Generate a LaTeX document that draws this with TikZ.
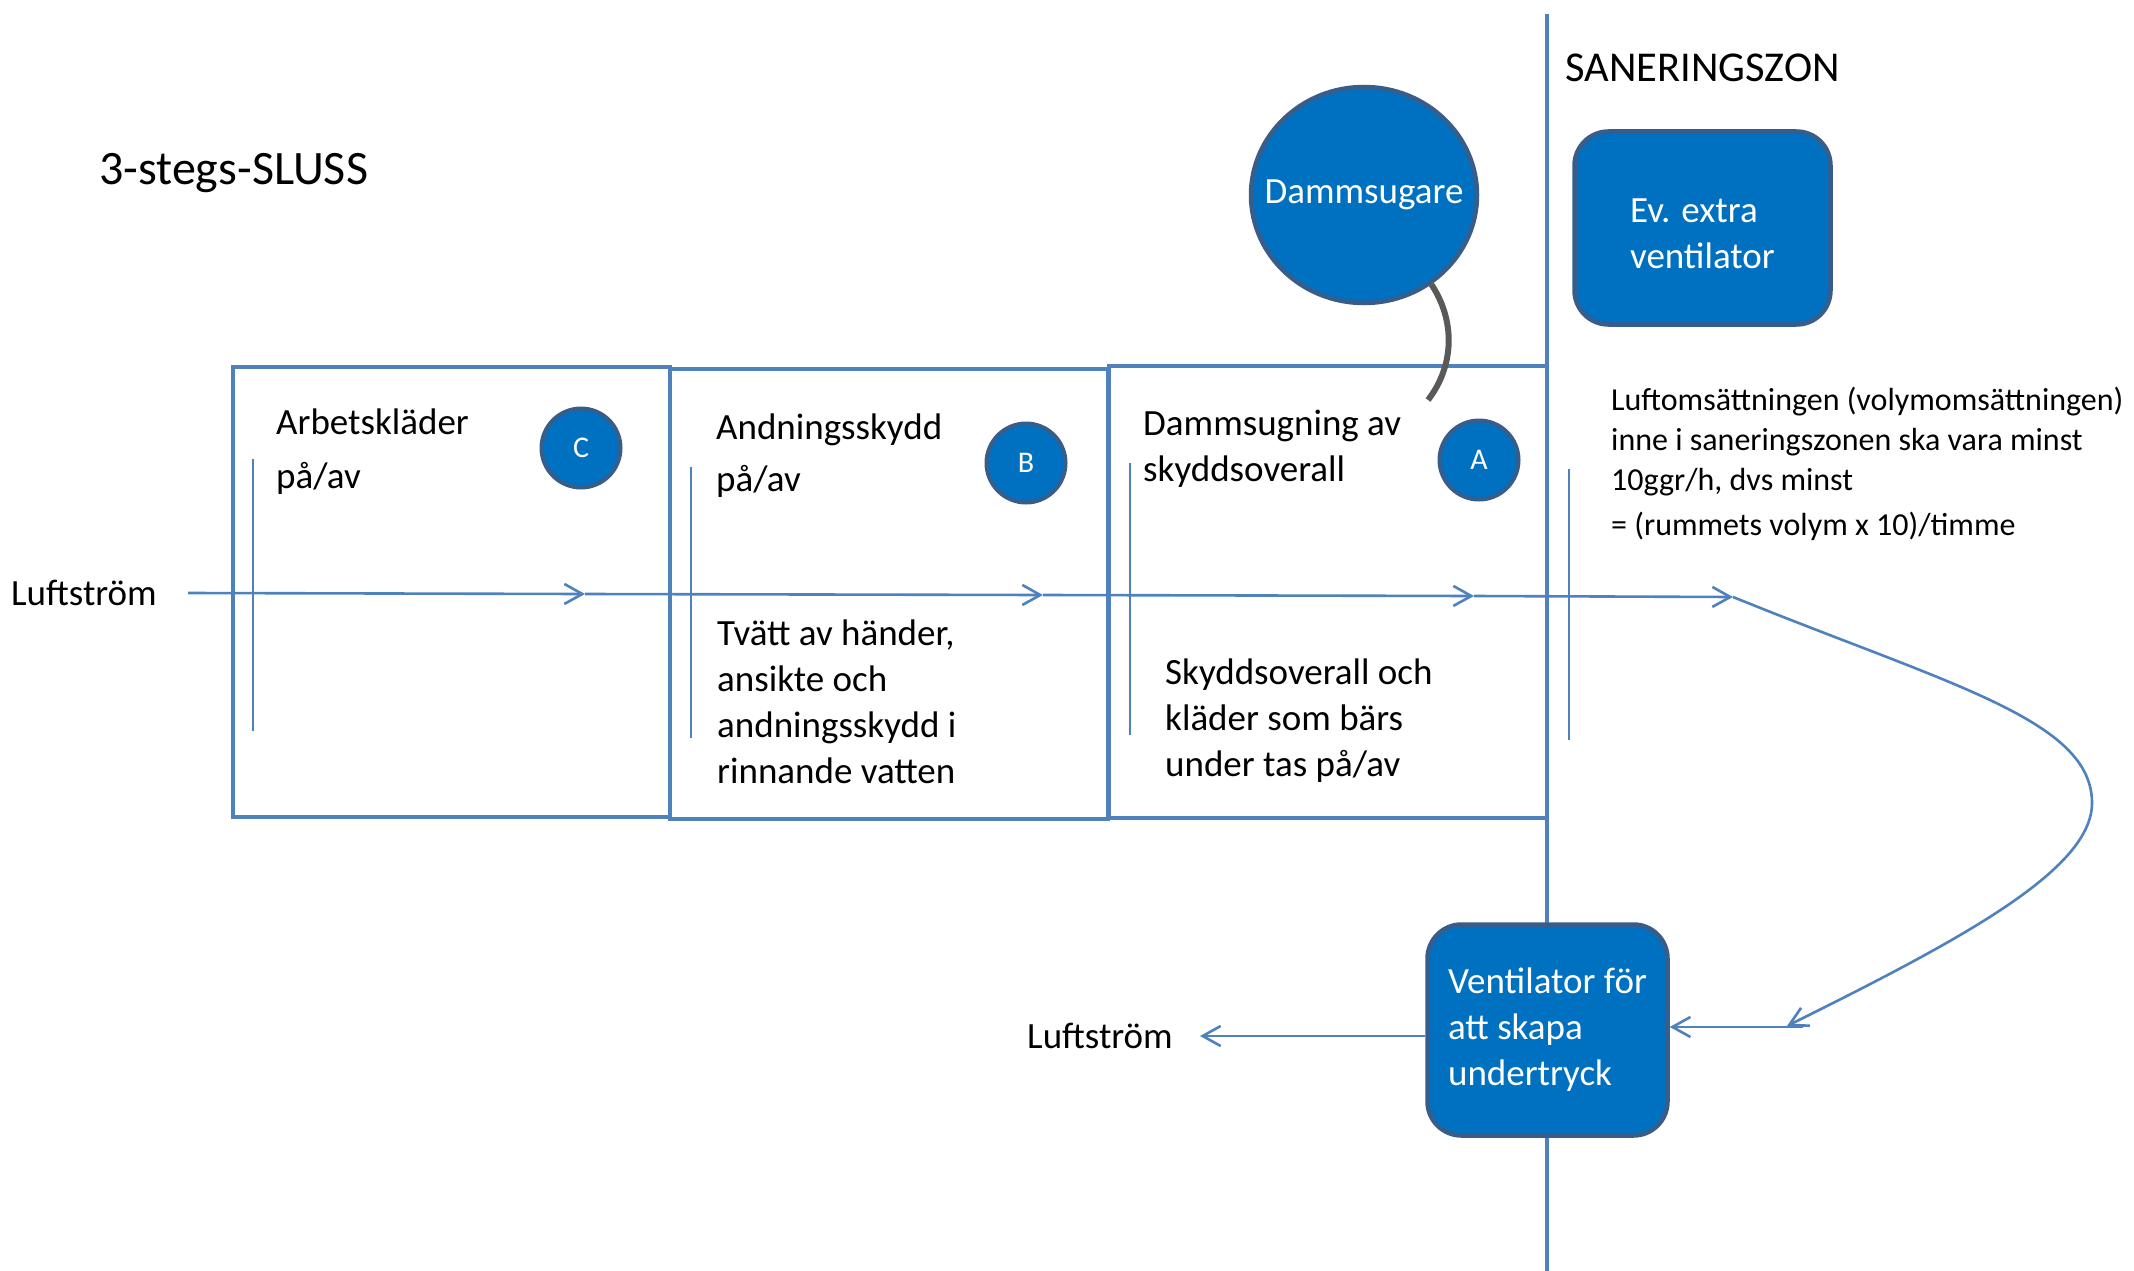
\documentclass[tikz,border=0pt]{standalone}
\usepackage{fontspec}
\setmainfont{Carlito}
\usetikzlibrary{arrows.meta,shapes.geometric}
\definecolor{lineblue}{HTML}{4F81BD}
\definecolor{fillblue}{HTML}{0070C0}
\definecolor{edgeblue}{HTML}{385D8A}
\definecolor{cablegray}{HTML}{595959}
\newcommand\txtlines[1]{\begin{tabular}[t]{@{}l@{}}#1\end{tabular}}
\begin{document}
\begin{tikzpicture}[x=1pt,y=-1pt,
  room/.style={draw=lineblue,line width=4.5pt,rectangle,inner sep=0pt},
  zoneline/.style={draw=lineblue,line width=4.5pt},
  doorline/.style={draw=lineblue,line width=2.6pt},
  flow/.style={draw=lineblue,line width=2.6pt,-{Straight Barb[length=18pt,width=20pt]}},
  txt/.style={anchor=base west,inner sep=0pt,font=\fontsize{37}{46}\selectfont},
  smalltxt/.style={anchor=base west,inner sep=0pt,font=\fontsize{32}{40}\selectfont},
  badge/.style={circle,fill=fillblue,draw=edgeblue,line width=4pt,minimum size=79pt,inner sep=0pt,text=white,font=\fontsize{30}{32}\selectfont},
  unit/.style={rectangle,rounded corners=34pt,fill=fillblue,draw=edgeblue,line width=4.5pt,inner sep=0pt,text=white,font=\fontsize{37}{46}\selectfont},
]
\useasboundingbox (0,0) rectangle (2134,1271);

% zone boundary
\draw[zoneline] (1547,14) -- (1547,1271);

% rooms
\node[room,minimum width=437pt,minimum height=450pt] (r1) at (451.5,592) {};
\node[room,minimum width=438pt,minimum height=450pt] (r2) at (889,594) {};
\node[room,minimum width=438pt,minimum height=452pt] (r3) at (1328,592) {};

% door markers
\draw[doorline] (253,459) -- (253,731);
\draw[doorline] (691,467) -- (691,738);
\draw[doorline] (1130,463) -- (1130,735);
\draw[doorline] (1569,469) -- (1569,740);

% air flow
\coordinate (f0) at (188,593);
\coordinate (f1) at (585,594);
\coordinate (f2) at (1043,595);
\coordinate (f3) at (1474,596);
\coordinate (f4) at (1733,597);
\coordinate (f5) at (1787,1026);
\coordinate (f6) at (1803,1027);
\coordinate (f7) at (1200,1036);
\draw[flow] (f0) -- (f1);
\draw[flow] (f1) -- (f2);
\draw[flow] (f2) -- (f3);
\draw[flow] (f3) -- (f4);
\draw[flow] (f4) .. controls (1950,685) and (2092,720) .. (2092,803)
               .. controls (2092,870) and (1960,940) .. (f5);

% texts
\node[anchor=base west,inner sep=0pt,font=\fontsize{48}{58}\selectfont] (title) at (99,184) {3-stegs-SLUSS};
\node[anchor=base west,inner sep=0pt,font=\fontsize{42.5}{50}\selectfont] (zone) at (1565,82) {SANERINGSZON};
\node[txt] (lft1) at (11,605) {Luftström};
\node[txt] (lft2) at (1027,1048) {Luftström};
\node[txt] (t1) at (276,434) {\txtlines{Arbetskläder\\[8pt] på/av}};
\node[txt] (t2) at (716,439) {\txtlines{Andningsskydd\\[6pt] på/av}};
\node[txt] (t3) at (1143,435) {\txtlines{Dammsugning av\\ skyddsoverall}};
\node[txt] (t4) at (717,645) {\txtlines{Tvätt av händer,\\ ansikte och\\ andningsskydd i\\ rinnande vatten}};
\node[txt] (t5) at (1165,684) {\txtlines{Skyddsoverall och\\ kläder som bärs\\ under tas på/av}};
\node[smalltxt] (t6) at (1611,410) {\txtlines{Luftomsättningen (volymomsättningen)\\ inne i saneringszonen ska vara minst\\ 10ggr/h, dvs minst\\[5pt] = (rummets volym x 10)/timme}};

% badges
\node[badge] (C) at (581,448) {C};
\node[badge] (B) at (1026,463) {B};
\node[badge] (A) at (1479,460) {A};

% vacuum cleaner
\node[ellipse,fill=fillblue,draw=edgeblue,line width=4.5pt,minimum width=226pt,minimum height=216pt,inner xsep=-22pt,inner ysep=0pt,text=white,font=\fontsize{37}{46}\selectfont] (dam) at (1364,195) {Dammsugare};
\coordinate (cend) at (1428,400);
\draw[cablegray,line width=6pt] (dam.-53) .. controls (1455,320) and (1455,365) .. (cend);

% ventilators
\node[unit,minimum width=256pt,minimum height=193pt] (ev) at (1702.5,228) {\txtlines{\rule{0pt}{48pt}Ev. extra\\ ventilator}};
\node[unit,minimum width=240pt,minimum height=211pt] (vent) at (1547.5,1030) {\txtlines{Ventilator för\\ att skapa\\ undertryck}};

\draw[flow] (f6) -- (f6 -| vent.east);
\draw[flow] (f7 -| vent.west) -- (f7);
\end{tikzpicture}
\end{document}
